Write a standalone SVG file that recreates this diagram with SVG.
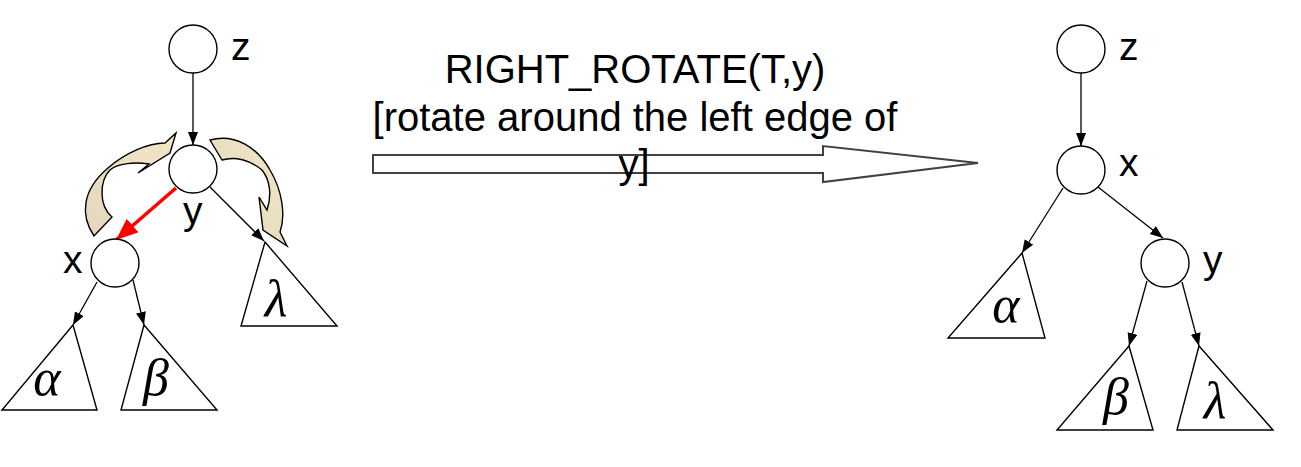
<svg xmlns="http://www.w3.org/2000/svg" width="1301" height="467" viewBox="0 0 1301 467">
<style>
.node{fill:#fff;stroke:#000;stroke-width:1.4}
.tri{fill:#fff;stroke:#000;stroke-width:1.4;stroke-linejoin:miter}
.edge{fill:none;stroke:#000;stroke-width:1.3}
.red{fill:none;stroke:#ff0000;stroke-width:3.5}
.lbl{font-family:"Liberation Sans",Arial,sans-serif;font-size:39px;fill:#000}
.greek{font-family:"Liberation Serif","Times New Roman",serif;font-style:italic;font-size:52px;fill:#000;text-anchor:middle}
.title{font-family:"Liberation Sans",Arial,sans-serif;font-size:40px;fill:#000;text-anchor:middle}
.curl{fill:url(#tan);stroke:#000;stroke-width:1.4;stroke-linejoin:miter}
</style>
<defs>
<marker id="ah" markerUnits="userSpaceOnUse" markerWidth="14" markerHeight="11" refX="13" refY="5" orient="auto">
<path d="M0,0 L13,5 L0,10 Z" fill="#000"/>
</marker>
<marker id="ahr" markerUnits="userSpaceOnUse" markerWidth="24" markerHeight="20" refX="22" refY="9" orient="auto">
<path d="M0,0 L22,9 L0,18 Z" fill="#ff0000"/>
</marker>
<linearGradient id="tan" x1="0" y1="1" x2="1" y2="0">
<stop offset="0" stop-color="#e3d8bc"/>
<stop offset="1" stop-color="#f2e6c6"/>
</linearGradient>
</defs>

<g id="rotation-arrows">
<path class="curl" d="M94,236 C80,215 82,190 108,168 C125,153 148,143 165,143 L176,133 L170,153 L138,173 L149,164 C135,162 118,163 110,170 C100,180 98,205 112,217 Z"/>
<path class="curl" d="M210,140 C235,133 258,148 270,170 C282,190 286,215 280,232 L287,246 L263,230 L259,197 L267,210 C272,195 270,180 262,170 C250,160 235,156 222,160 Z"/>
</g>

<g id="connectors">
<line class="edge" x1="193" y1="73" x2="193" y2="145" marker-end="url(#ah)"/>
<line class="red" x1="176" y1="188" x2="116" y2="240" marker-end="url(#ahr)"/>
<line class="edge" x1="210" y1="187" x2="264" y2="241" marker-end="url(#ah)"/>
<line class="edge" x1="97" y1="282" x2="73" y2="325" marker-end="url(#ah)"/>
<line class="edge" x1="133" y1="280" x2="144" y2="325" marker-end="url(#ah)"/>
<line class="edge" x1="1081" y1="73" x2="1081" y2="146" marker-end="url(#ah)"/>
<line class="edge" x1="1063" y1="188" x2="1022" y2="253" marker-end="url(#ah)"/>
<line class="edge" x1="1098" y1="187" x2="1163" y2="238" marker-end="url(#ah)"/>
<line class="edge" x1="1147" y1="281" x2="1129" y2="346" marker-end="url(#ah)"/>
<line class="edge" x1="1182" y1="282" x2="1199" y2="346" marker-end="url(#ah)"/>
</g>

<g id="left-z"><circle class="node" cx="193" cy="49" r="24"/><text class="lbl" x="231" y="60">z</text></g>
<g id="left-y"><circle class="node" cx="193" cy="169" r="24"/><text class="lbl" x="183" y="224">y</text></g>
<g id="left-x"><circle class="node" cx="115" cy="263" r="24"/><text class="lbl" x="63" y="273">x</text></g>
<g id="left-alpha"><polygon class="tri" points="73,325 2,410 97,410"/><text class="greek" x="47" y="395">α</text></g>
<g id="left-beta"><polygon class="tri" points="144,325 121,410 217,410"/><text class="greek" x="156" y="395">β</text></g>
<g id="left-lambda"><polygon class="tri" points="265,242 241,326 337,326"/><text class="greek" x="276" y="316">λ</text></g>

<g id="rotate-arrow">
<polygon points="373,155 823,155 823,146 978,163 823,182 823,173 373,173" fill="#fff" stroke="#404040" stroke-width="2"/>
<text class="title" x="635" y="83">RIGHT_ROTATE(T,y)</text>
<text class="title" x="635" y="131">[rotate around the left edge of</text>
<text class="title" x="634" y="178">y]</text>
</g>

<g id="right-z"><circle class="node" cx="1081" cy="49" r="24"/><text class="lbl" x="1119" y="60">z</text></g>
<g id="right-x"><circle class="node" cx="1081" cy="170" r="24"/><text class="lbl" x="1119" y="176">x</text></g>
<g id="right-y"><circle class="node" cx="1165" cy="263" r="24"/><text class="lbl" x="1203" y="273">y</text></g>
<g id="right-alpha"><polygon class="tri" points="1022,253 948,338 1045,338"/><text class="greek" x="1006" y="322">α</text></g>
<g id="right-beta"><polygon class="tri" points="1129,346 1057,430 1153,430"/><text class="greek" x="1116" y="414">β</text></g>
<g id="right-lambda"><polygon class="tri" points="1199,346 1177,430 1273,430"/><text class="greek" x="1215" y="418">λ</text></g>
</svg>
